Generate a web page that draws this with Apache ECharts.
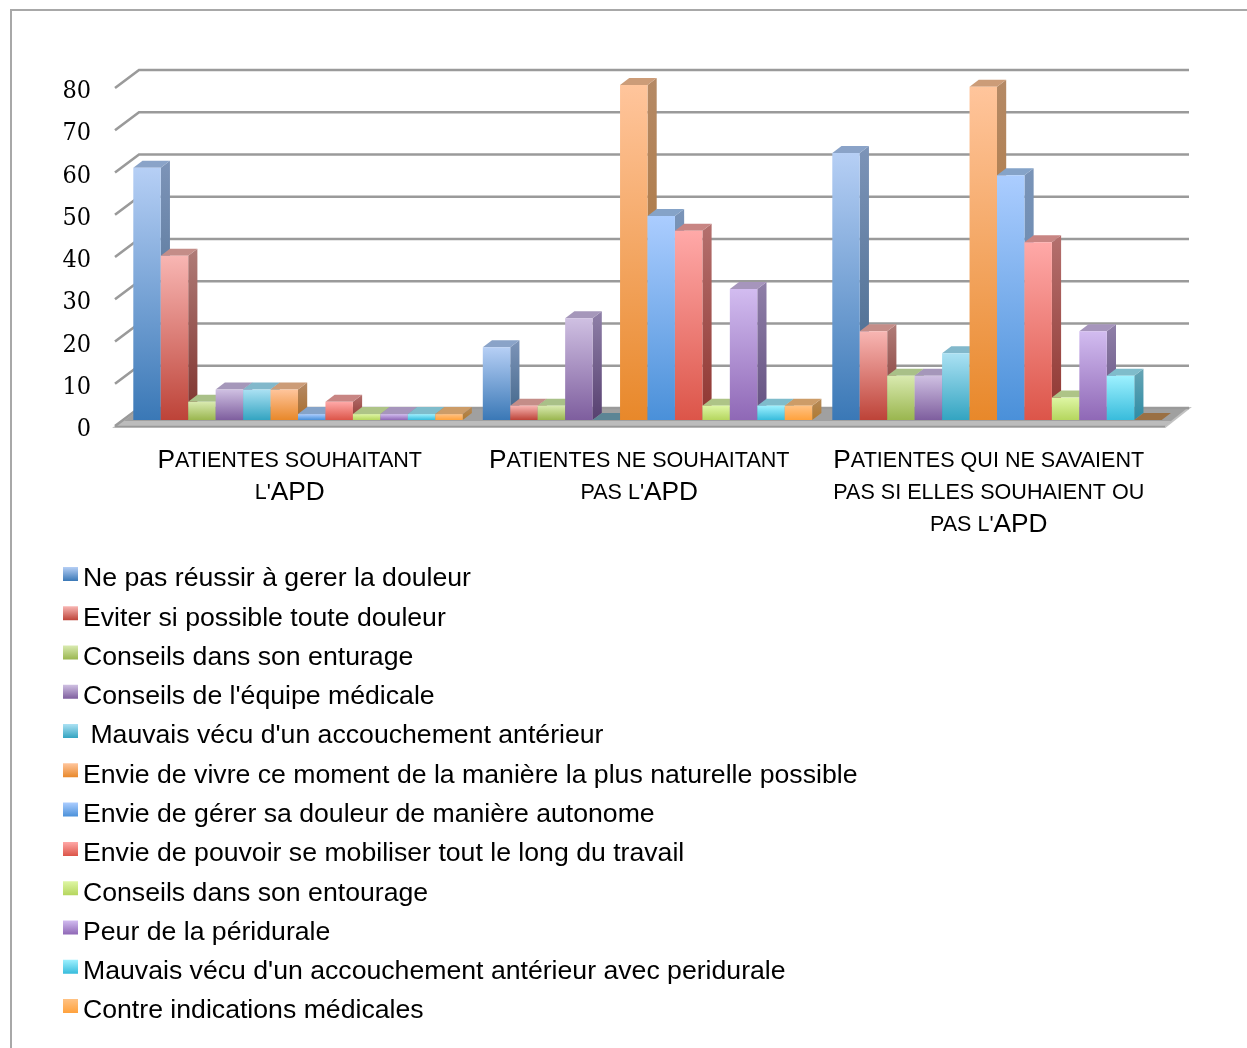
<!DOCTYPE html>
<html><head><meta charset="utf-8">
<style>html,body{margin:0;padding:0;background:#fff}#c{width:1247px;height:1048px}</style>
<script src="https://cdn.jsdelivr.net/npm/echarts@6/dist/echarts.min.js"></script>
</head><body><div id="c"></div>
<script>
const categories = ["Patientes souhaitant\nl'APD", "Patientes ne souhaitant\npas l'APD", "Patientes qui ne savaient\npas si elles souhaient ou\npas l'APD"];
const yTicks = [0,10,20,30,40,50,60,70,80];
const seriesNames = ["Ne pas réussir à gerer la douleur","Eviter si possible toute douleur","Conseils dans son enturage","Conseils de l'équipe médicale"," Mauvais vécu d'un accouchement antérieur","Envie de vivre ce moment de la manière la plus naturelle possible","Envie de gérer sa douleur de manière autonome","Envie de pouvoir se mobiliser tout le long du travail","Conseils dans son entourage","Peur de la péridurale","Mauvais vécu d'un accouchement antérieur avec peridurale","Contre indications médicales"];
const v1 = [59.7,17.2,63.2];
const v2 = [38.9,3.4,21.0];
const v3 = [4.3,3.4,10.5];
const v4 = [7.2,24.1,10.5];
const v5 = [7.2,0,15.8];
const v6 = [7.2,79.3,78.9];
const v7 = [1.4,48.3,57.9];
const v8 = [4.3,44.8,42.1];
const v9 = [1.4,3.4,5.3];
const v10 = [1.4,31.0,21.0];
const v11 = [1.4,3.4,10.5];
const v12 = [1.4,3.4,0];
const allValues = [v1,v2,v3,v4,v5,v6,v7,v8,v9,v10,v11,v12];

// front gradient top, front gradient bottom, top face, side top, side bottom
const palette = [
 ['#b6cff5','#3a78b6','#8aa3c8','#7d94b8','#3f6488'],
 ['#f8b6b3','#bd4338','#c48d88','#b07c78','#7d302b'],
 ['#d9eab0','#9ab64f','#a9c088','#93a878','#6f8a3a'],
 ['#cfc0e2','#7e5e9e','#a597ba','#8f80a8','#574070'],
 ['#abe1f3','#33a4c1','#82b8cb','#74a4b4','#2a7d94'],
 ['#ffc59c','#e8882a','#cc9c78','#b58a66','#a86c2a'],
 ['#abcdff','#4a90d9','#85a3c8','#7a94b8','#5a80a8'],
 ['#ffa9a8','#dc5549','#c88583','#b4706e','#8f3530'],
 ['#def6a4','#b5d65e','#aec487','#9cb078','#88a040'],
 ['#d2bcf0','#8f68b6','#a695bc','#8f7fa8','#635080'],
 ['#9ef1ff','#38bcdc','#7fbccb','#68a5b5','#2d8ca5'],
 ['#ffc284','#ffa23d','#cc9c68','#b58a5a','#b07a30']
];
const zeroTop = ['#3a5a7a','#8a4a45','#6f8a50','#5a4a70','#5c8595','#9a7044','#4a6a90','#8a4540','#7a9050','#5f4f80','#4a8a9a','#9a7044'];

const grad = (a,b,end=1)=>new echarts.graphic.LinearGradient(0,0,0,end,[{offset:0,color:a},{offset:1,color:b}]);
const BAR_W = 27.45, LEAD = 18.3, PLANE_Y = 6, DX = 9.2, DY = 7;
// legend swatch: 15x14 rect in the upper part of a 15x24 icon box, so it sits above the text centre as in the reference
const SWATCH = 'path://M0,0H15V14H0Z M0,24L0,24Z';

function smallCaps(s){
  return s.split('\n').map(line =>
    line.replace(/[a-z' ]+|[^a-z' ]+/g, run =>
      /^[a-z' ]/.test(run) ? '{small|'+run.toUpperCase()+'}' : '{big|'+run+'}')
  ).join('\n');
}

const wallSeries = {
  type:'custom', silent:true, z:1, name:'__wall',
  data: yTicks.map(t=>[0,t]),
  encode:{x:0,y:1},
  renderItem(params,api){
    const t = api.value(1), p = api.coord([0,t]), bw = api.size([1,0])[0];
    const L = p[0]-bw/2, R = L+3*bw+1.5, y = p[1];
    const kids = [];
    if (t === 0){
      kids.push({type:'polygon',shape:{points:[[L+24,y-18],[R+24,y-18],[R,y+1],[L,y+1]]},style:{fill:'#a0a0a0',stroke:'#c2c2c2',lineWidth:2}});
      kids.push({type:'polygon',shape:{points:[[L+8,y-5],[R+7,y-5],[R,y],[L,y]]},style:{fill:'#bcbcbc'}});
      kids.push({type:'line',shape:{x1:L,y1:y+0.5,x2:R,y2:y+0.5},style:{stroke:'#989898',lineWidth:1.5}});
    }
    kids.push({type:'polyline',shape:{points:[[L,y],[L+24,y-18],[R+24,y-18]]},style:{fill:null,stroke:'#9a9a9a',lineWidth:2.6}});
    return {type:'group',children:kids};
  }
};

const barSeries = seriesNames.map((name,i)=>({
  type:'custom', name, z:2,
  itemStyle:{color:palette[i][1]},
  data: allValues[i].map((v,c)=>[c,v]),
  encode:{x:0,y:1},
  renderItem(params,api){
    const c = api.value(0), v = api.value(1);
    const base = api.coord([c,0]), top = api.coord([c,v]), bw = api.size([1,0])[0];
    const x = base[0]-bw/2+LEAD+i*BAR_W, yb = base[1]-PLANE_Y, yt = top[1]-PLANE_Y, x2 = x+BAR_W;
    const col = palette[i];
    if (v === 0){
      return {type:'polygon',shape:{points:[[x,yb],[x2,yb],[x2+DX,yb-DY],[x+DX,yb-DY]]},style:{fill:zeroTop[i]}};
    }
    return {type:'group',children:[
      {type:'polygon',shape:{points:[[x2,yt],[x2+DX,yt-DY],[x2+DX,yb-DY],[x2,yb]]},style:{fill:grad(col[3],col[4])}},
      {type:'polygon',shape:{points:[[x,yt],[x2,yt],[x2+DX,yt-DY],[x+DX,yt-DY]]},style:{fill:col[2]}},
      {type:'rect',shape:{x,y:yt,width:BAR_W,height:yb-yt},style:{fill:grad(col[0],col[1])}}
    ]};
  }
}));

const chart = echarts.init(document.getElementById('c'),null,{renderer:'canvas',width:1247,height:1048});
chart.setOption({
  animation:false,
  backgroundColor:'#fff',
  tooltip:{show:false},
  grid:{left:115,right:83.5,top:88,bottom:622,containLabel:false},
  xAxis:{type:'category',data:categories,axisLine:{show:false},axisTick:{show:false},splitLine:{show:false},
    axisLabel:{interval:0,margin:19,color:'#000',align:'center',verticalAlign:'top',
      formatter:v=>smallCaps(v),
      rich:{big:{fontFamily:'Liberation Sans',fontSize:26.3,lineHeight:32,color:'#000'},
            small:{fontFamily:'Liberation Sans',fontSize:21.55,lineHeight:32,color:'#000'}}}},
  yAxis:{type:'value',min:0,max:80,interval:10,axisLine:{show:false},axisTick:{show:false},splitLine:{show:false},
    axisLabel:{margin:24,color:'#000',fontFamily:'DejaVu Serif Condensed, DejaVu Serif',fontSize:25,verticalAlign:'top',lineHeight:7}},
  legend:{orient:'vertical',left:63,top:564,padding:0,itemWidth:15,itemHeight:24,itemGap:9.27,selectedMode:false,
    textStyle:{fontFamily:'Liberation Sans',fontSize:26.65,lineHeight:30,color:'#000'},
    data:seriesNames.map((name,i)=>({name,icon:SWATCH,itemStyle:{color:grad(palette[i][0],palette[i][1],14/24)}}))},
  graphic:[{type:'rect',silent:true,z:0,shape:{x:11,y:10,width:1300,height:1100},style:{fill:null,stroke:'#a8a8a8',lineWidth:2}}],
  series:[wallSeries].concat(barSeries)
});
</script></body></html>
